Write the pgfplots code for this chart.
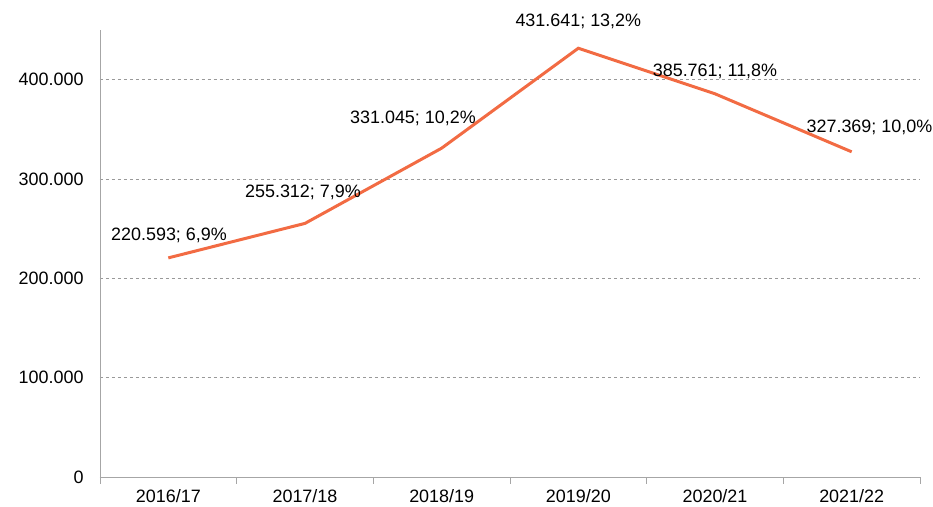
\documentclass[border=0pt]{standalone}
\usepackage{pgfplots}
\pgfplotsset{compat=1.18}
\usepackage{fontspec}
\setmainfont{Liberation Sans}
\definecolor{lineor}{HTML}{F26B43}
\definecolor{axgray}{HTML}{A6A6A6}
\begin{document}
\fontsize{18}{21}\selectfont
\begin{tikzpicture}
\begin{axis}[
  at={(0,0)}, anchor=south west,
  scale only axis, width=820bp, height=447bp,
  xmin=-0.5, xmax=5.5, ymin=0, ymax=450000,
  axis x line*=bottom, axis y line*=left,
  axis line style={axgray, line width=0.8bp},
  xtick={0,1,2,3,4,5},
  xticklabels={2016/17,2017/18,2018/19,2019/20,2020/21,2021/22},
  major x tick style={draw=none},
  minor xtick={-0.5,0.5,1.5,2.5,3.5,4.5,5.5},
  minor x tick style={axgray, line width=0.8bp},
  tick align=outside,
  minor tick length=7bp,
  ytick={0,100000,200000,300000,400000},
  major y tick style={draw=none},
  ymajorgrids,
  major grid style={dashed, gray!80, line width=0.5bp},
  scaled y ticks=false,
  /pgf/number format/fixed,
  /pgf/number format/1000 sep={.},
  /pgf/number format/assume math mode=true,
  tick label style={font=\fontsize{18}{21}\selectfont},
  yticklabel style={xshift=-6bp},
  xticklabel style={yshift=-2bp},
  clip=false,
]
\addplot[lineor, line width=3bp] coordinates {
  (0,220593) (1,255312) (2,331045) (3,431641) (4,385761) (5,327369)
};
\draw[axgray, line width=0.8bp] (axis cs:-0.5,0) -- ++(-6bp,0);
\node at (axis cs:0.005,243000) {220.593; 6,9\%};
\node at (axis cs:0.985,287000) {255.312; 7,9\%};
\node at (axis cs:1.79,361000) {331.045; 10,2\%};
\node at (axis cs:3.0,459000) {431.641; 13,2\%};
\node at (axis cs:4.0,408000) {385.761; 11,8\%};
\node at (axis cs:5.13,352000) {327.369; 10,0\%};
\end{axis}
\pgfresetboundingbox
\useasboundingbox (-100bp,-30bp) rectangle (833bp,477bp);
\end{tikzpicture}
\end{document}
